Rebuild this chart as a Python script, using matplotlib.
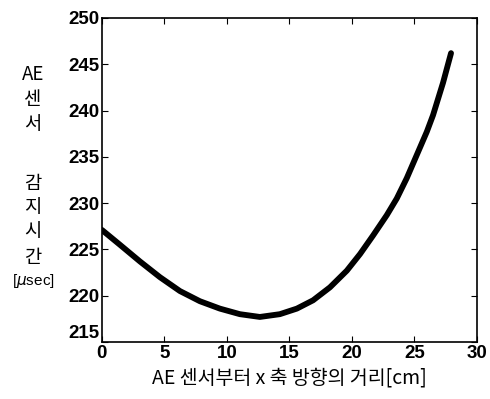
import matplotlib.pyplot as plt

plt.rcParams['font.family'] = ['Liberation Sans', 'Noto Sans CJK KR', 'DejaVu Sans']

# distance from AE sensor along x [cm] and detection time [usec]
dist = [0, 1.44, 3.04, 4.64, 6.24, 7.84, 9.44, 11.04, 12.64, 14.24, 15.6,
        16.9, 18.25, 19.6, 20.66, 21.7, 22.8, 23.6, 24.4, 25.2, 26.0, 26.5, 27.3, 27.94]
time_us = [227.1, 225.5, 223.7, 222.0, 220.5, 219.4, 218.6, 218.0, 217.7, 218.0, 218.6,
           219.5, 220.9, 222.7, 224.5, 226.5, 228.7, 230.5, 232.7, 235.2, 237.7, 239.5,
           243.0, 246.2]

xticks = [0, 5, 10, 15, 20, 25, 30]
yticks = [215, 220, 225, 230, 235, 240, 245, 250]

fig = plt.figure(figsize=(4.9, 3.99), dpi=100)
ax = fig.add_axes([0.208, 0.143, 0.765, 0.812])

ax.plot(dist, time_us, color='black', lw=4.2, solid_capstyle='round', solid_joinstyle='round')

ax.set_xlim(0, 30)
ax.set_ylim(215, 250)
ax.set_xticks(xticks)
ax.set_yticks(yticks)
ax.tick_params(direction='in', top=True, right=True, length=4, labelsize=13.5, pad=2)
for lab in ax.get_xticklabels() + ax.get_yticklabels():
    lab.set_fontweight('bold')
# the lowest y label sits a little above the corner, clear of the x "0"
ax.get_yticklabels()[0].set_verticalalignment('bottom')
for sp in ax.spines.values():
    sp.set_linewidth(1.2)

ax.set_xlabel('AE 센서부터 x 축 방향의 거리[cm]', fontsize=14,
              family=['Noto Sans CJK KR', 'DejaVu Sans'], labelpad=4)

# stacked vertical y label
ylines = [('AE', 75), ('센', 100), ('서', 125), ('감', 183), ('지', 207), ('시', 232), ('간', 257)]
for s, py in ylines:
    fig.text(33 / 490, 1 - py / 399, s, ha='center', va='center', fontsize=13.5,
             family=['Noto Sans CJK KR', 'DejaVu Sans'])
fig.text(33 / 490, 1 - 281 / 399, '[$\\mu$sec]', ha='center', va='center', fontsize=11)

fig.savefig('out.png', dpi=100)
